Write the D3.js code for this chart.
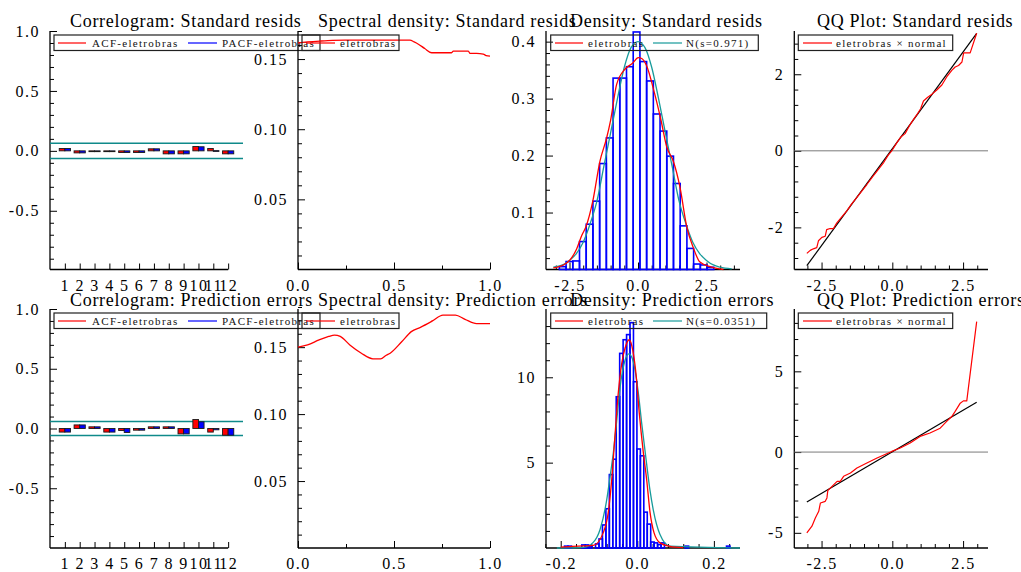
<!DOCTYPE html>
<html>
<head>
<meta charset="utf-8">
<script src="https://cdn.jsdelivr.net/npm/d3@7"></script>
<style>
  html, body { margin: 0; padding: 0; background: #fff; }
  svg { display: block; font-family: "Liberation Serif", "Times New Roman", serif; }
</style>
</head>
<body>
<svg id="chart" width="1021" height="572"></svg>
<script>
// ---------- Correlograms ----------
const lags = [1, 2, 3, 4, 5, 6, 7, 8, 9, 10, 11, 12];
const acfStd  = [0.020, -0.017, -0.003, -0.003, -0.014, -0.014, 0.017, -0.025, -0.025, 0.036, 0.020, -0.025];
const pacfStd = [0.020, -0.017, -0.003, -0.003, -0.014, -0.014, 0.017, -0.025, -0.025, 0.034, 0.002, -0.025];
const bandStd = 0.063;
const acfErr  = [-0.030, 0.030, 0.014, -0.030, -0.017, -0.014, 0.014, 0.014, -0.045, 0.075, -0.030, -0.056];
const pacfErr = [-0.030, 0.030, 0.014, -0.030, -0.033, -0.014, 0.014, 0.014, -0.045, 0.056, -0.011, -0.056];
const bandErr = 0.058;

// ---------- Spectral densities ----------
const specStdX = [0, 0.05, 0.114, 0.18, 0.245, 0.35, 0.45, 0.583, 0.605, 0.627, 0.66, 0.696, 0.75, 0.80, 0.809, 0.85, 0.887, 0.896, 0.93, 0.965, 0.98, 1.0];
const specStdY = [0.1616, 0.1622, 0.1628, 0.1633, 0.1635, 0.1635, 0.1635, 0.1635, 0.1622, 0.1606, 0.1575, 0.1545, 0.1545, 0.1545, 0.1557, 0.1557, 0.1557, 0.1540, 0.1540, 0.1535, 0.1525, 0.1521];
const specErrX = [0, 0.05, 0.11, 0.16, 0.19, 0.22, 0.27, 0.33, 0.39, 0.43, 0.46, 0.48, 0.54, 0.59, 0.64, 0.70, 0.755, 0.82, 0.87, 0.93, 1.0];
const specErrY = [0.1500, 0.1517, 0.1554, 0.1580, 0.1590, 0.1580, 0.1517, 0.1455, 0.1413, 0.1413, 0.1440, 0.1455, 0.1540, 0.1616, 0.1650, 0.1696, 0.1740, 0.1740, 0.1708, 0.1676, 0.1676];

// ---------- Densities: standard residuals ----------
const binWStd = 0.245;
const histStdX0 = [-2.87, -2.625, -2.38, -2.135, -1.89, -1.645, -1.40, -1.155, -0.91, -0.665, -0.42, -0.175, 0.07, 0.315, 0.56, 0.805, 1.05, 1.295, 1.54, 1.785, 2.03, 2.275, 2.52];
const histStdH  = [0.005, 0.014, 0.015, 0.049, 0.0795, 0.120, 0.186, 0.231, 0.336, 0.336, 0.356, 0.417, 0.365, 0.331, 0.273, 0.243, 0.199, 0.151, 0.0766, 0.037, 0.0096, 0.008, 0.004];
const kdeStdX = [-3.09, -2.72, -2.48, -2.24, -2.05, -1.90, -1.65, -1.39, -1.15, -1.0, -0.78, -0.47, -0.20, 0.01, 0.15, 0.31, 0.60, 0.84, 1.05, 1.29, 1.53, 1.78, 2.02, 2.26, 2.63, 3.12];
const kdeStdY = [0.003, 0.008, 0.017, 0.036, 0.060, 0.075, 0.120, 0.190, 0.230, 0.262, 0.325, 0.352, 0.362, 0.372, 0.370, 0.358, 0.310, 0.262, 0.215, 0.190, 0.145, 0.075, 0.038, 0.013, 0.005, 0.0];
const normStdX = [-3.09, -2.75, -2.5, -2.25, -2.0, -1.75, -1.5, -1.25, -1.0, -0.75, -0.5, -0.25, 0, 0.25, 0.5, 0.75, 1.0, 1.25, 1.5, 1.75, 2.0, 2.25, 2.5, 2.75, 3.0, 3.42];
const normStdY = [0.004, 0.008, 0.016, 0.028, 0.048, 0.080, 0.120, 0.180, 0.240, 0.300, 0.355, 0.390, 0.400, 0.390, 0.355, 0.300, 0.240, 0.180, 0.120, 0.080, 0.048, 0.028, 0.016, 0.008, 0.004, 0.001];

// ---------- Densities: prediction errors ----------
const binWErr = 0.009;
const histErrX0 = [-0.190, -0.181, -0.145, -0.136, -0.127, -0.109, -0.100, -0.091, -0.082, -0.073, -0.064, -0.055, -0.046, -0.037, -0.028, -0.019, -0.010, -0.001, 0.008, 0.017, 0.026, 0.035, 0.044, 0.053, 0.062, 0.125, 0.233];
const histErrH  = [0.11, 0.11, 0.18, 0.18, 0.11, 0.24, 0.53, 1.35, 2.3, 4.3, 5.2, 8.86, 11.4, 12.2, 12.5, 13.2, 9.74, 5.8, 5.4, 2.1, 1.4, 0.35, 0.3, 0.2, 0.3, 0.11, 0.11];
const kdeErrX = [-0.20, -0.17, -0.14, -0.115, -0.0888, -0.0757, -0.0668, -0.0582, -0.0496, -0.0407, -0.0321, -0.0209, -0.012, -0.0034, 0.0052, 0.0157, 0.0245, 0.0332, 0.0436, 0.0593, 0.085, 0.12];
const kdeErrY = [0.05, 0.10, 0.12, 0.15, 0.9, 2.1, 4.0, 6.6, 9.1, 10.8, 11.7, 12.2, 11.6, 10.2, 7.9, 5.6, 4.0, 2.1, 0.9, 0.3, 0.1, 0.02];
const normErrX = [-0.21, -0.14, -0.115, -0.097, -0.080, -0.071, -0.063, -0.054, -0.045, -0.032, -0.0217, -0.0104, 0.0026, 0.0115, 0.0245, 0.033, 0.042, 0.059, 0.085, 0.268];
const normErrY = [0, 0.04, 0.33, 1.1, 2.8, 4.2, 5.5, 7.4, 9.4, 11.0, 11.37, 10.9, 9.1, 7.3, 4.9, 3.4, 2.2, 0.8, 0.11, 0];

// ---------- QQ plots ----------
const qqStdX = [-3.02, -2.90, -2.79, -2.67, -2.61, -2.49, -2.37, -2.32, -2.20, -2.08, -1.96, -1.80, -1.60, -1.45, -1.30, -1.10, -0.90, -0.70, -0.50, -0.30, -0.15, 0, 0.15, 0.30, 0.45, 0.60, 0.75, 0.90, 1.00, 1.10, 1.25, 1.40, 1.57, 1.75, 1.92, 2.10, 2.22, 2.34, 2.46, 2.52, 2.75, 2.98];
const qqStdY = [-2.68, -2.60, -2.56, -2.53, -2.35, -2.26, -2.23, -2.06, -2.03, -2.03, -1.88, -1.74, -1.56, -1.40, -1.26, -1.07, -0.88, -0.68, -0.49, -0.30, -0.12, 0.02, 0.20, 0.36, 0.45, 0.65, 0.82, 0.98, 1.10, 1.30, 1.40, 1.48, 1.59, 1.72, 1.93, 2.10, 2.19, 2.23, 2.32, 2.56, 2.56, 3.07];
const refStdX = [-3.02, 2.98];
const refStdY = [-3.00, 3.07];
const qqErrX = [-3.02, -2.84, -2.72, -2.60, -2.54, -2.37, -2.31, -2.28, -2.13, -1.95, -1.84, -1.72, -1.48, -1.25, -0.90, -0.54, -0.02, 0.28, 0.63, 0.98, 1.33, 1.69, 1.92, 2.10, 2.22, 2.40, 2.51, 2.63, 2.98];
const qqErrY = [-5.00, -4.59, -4.08, -3.67, -3.15, -3.05, -2.84, -2.39, -2.12, -1.81, -1.81, -1.50, -1.30, -0.99, -0.68, -0.37, 0.04, 0.25, 0.56, 0.97, 1.18, 1.48, 1.90, 2.20, 2.52, 3.03, 3.17, 3.17, 8.08];
const refErrX = [-3.02, 2.98];
const refErrY = [-3.09, 3.09];

// ---------- Text ----------
const titlesTop = ["Correlogram: Standard resids", "Spectral density: Standard resids", "Density: Standard resids", "QQ Plot: Standard resids"];
const titlesBottom = ["Correlogram: Prediction errors", "Spectral density: Prediction errors", "Density: Prediction errors", "QQ Plot: Prediction errors"];
const seriesName = "eletrobras";

// ---------- Styling ----------
const RED = "#ff0000", BLUE = "#0000ff", TEAL = "#179b9b", INK = "#000";
const svg = d3.select("#chart");
const rowBox = [{ top: 31, bottom: 269.5 }, { top: 309, bottom: 548 }];
const titleX = [70, 318, 570, 817];
const titleY = [27, 305.5];
const f1 = d => d.toFixed(1), f2 = d => d.toFixed(2), f0 = d => String(d);

const zip = (xs, ys) => xs.map((x, i) => [x, ys[i]]);
// tick positions between major steps (5 subdivisions each)
const subTicks = (lo, hi, step, major) =>
  d3.range(Math.round(lo / step), Math.round(hi / step) + 1)
    .map(k => +(k * step).toFixed(6))
    .filter(v => Math.abs(v / major - Math.round(v / major)) > 1e-6);

function yAxis(y, x0, majors, minors, fmt) {
  const g = svg.append("g");
  g.append("g").attr("transform", `translate(${x0},0)`)
    .call(d3.axisLeft(y).tickValues(minors).tickSize(-4).tickFormat(""))
    .call(s => s.select(".domain").remove());
  g.append("g").attr("transform", `translate(${x0},0)`)
    .call(d3.axisLeft(y).tickValues(majors).tickSize(-7).tickPadding(10).tickFormat(fmt))
    .call(s => s.select(".domain").remove());
  styleAxis(g);
  g.append("line").attr("x1", x0).attr("x2", x0)
    .attr("y1", y.range()[0]).attr("y2", y.range()[1])
    .attr("stroke", INK).attr("stroke-width", 1.3);
}

function xAxis(x, y0, majors, minors, fmt, endX, majorLen) {
  const g = svg.append("g");
  if (minors.length) {
    g.append("g").attr("transform", `translate(0,${y0})`)
      .call(d3.axisBottom(x).tickValues(minors).tickSize(-4).tickFormat(""))
      .call(s => s.select(".domain").remove());
  }
  g.append("g").attr("transform", `translate(0,${y0})`)
    .call(d3.axisBottom(x).tickValues(majors).tickSize(-(majorLen || 7)).tickPadding(10).tickFormat(fmt))
    .call(s => s.select(".domain").remove());
  styleAxis(g);
  g.append("line").attr("x1", x.range()[0]).attr("x2", endX === undefined ? x.range()[1] : endX)
    .attr("y1", y0).attr("y2", y0)
    .attr("stroke", INK).attr("stroke-width", 1.3);
}

function styleAxis(g) {
  g.selectAll("g").attr("font-family", null).attr("font-size", null);
  g.selectAll(".tick line").attr("stroke", INK).attr("stroke-width", 1);
  g.selectAll(".tick text").attr("fill", INK)
    .style("font-size", "16px").style("letter-spacing", "1.5px");
}

function title(text, x, y) {
  svg.append("text").attr("x", x).attr("y", y).text(text)
    .style("font-size", "18px").style("letter-spacing", "0.7px").attr("fill", INK);
}

function legend(x0, x1, y0, items) {
  const g = svg.append("g");
  const y1 = y0 + 15.5, ym = y0 + 8;
  g.append("rect").attr("x", x0).attr("y", y0).attr("width", x1 - x0).attr("height", y1 - y0)
    .attr("fill", "none").attr("stroke", "#202020").attr("stroke-width", 1.2);
  items.forEach(it => {
    g.append("line").attr("x1", it.l0).attr("x2", it.l1).attr("y1", ym).attr("y2", ym)
      .attr("stroke", it.color).attr("stroke-width", 1.5).attr("opacity", 0.8);
    g.append("text").attr("x", it.t).attr("y", y1 - 3.7).text(it.text)
      .style("font-size", "11px").style("letter-spacing", "1.3px").attr("fill", "#111");
  });
}

function path(data, x, y, color, width, curve) {
  svg.append("path").datum(data)
    .attr("d", d3.line().x(d => x(d[0])).y(d => y(d[1])).curve(curve || d3.curveLinear))
    .attr("fill", "none").attr("stroke", color).attr("stroke-width", width)
    .attr("stroke-linejoin", "round");
}

// ---------- Panel builders ----------
function correlogram(row, acf, pacf, band) {
  const b = rowBox[row];
  const x = d3.scaleLinear([0, 13], [50, 243]);
  const y = d3.scaleLinear([row === 0 ? -0.99 : -1, 1], [b.bottom, b.top]);
  yAxis(y, 50, [-0.5, 0, 0.5, 1], subTicks(-0.9, 0.9, 0.1, 0.5), f1);
  xAxis(x, b.bottom, lags, [], f0, x(12), 6);
  [band, -band].forEach(v => {
    svg.append("line").attr("x1", 50).attr("x2", x.range()[1])
      .attr("y1", y(v)).attr("y2", y(v)).attr("stroke", "#0f8a8a").attr("stroke-width", 1.5);
  });
  const bw = 5.6;
  const bars = [{ vals: acf, color: RED, off: -bw }, { vals: pacf, color: BLUE, off: 0 }];
  bars.forEach(s => {
    svg.append("g").selectAll("rect").data(lags).join("rect")
      .attr("x", (k) => x(k) + s.off)
      .attr("width", bw)
      .attr("y", (k, i) => Math.min(y(0), y(s.vals[i])))
      .attr("height", (k, i) => Math.max(0.8, Math.abs(y(s.vals[i]) - y(0))))
      .attr("fill", s.color).attr("stroke", "#1a1a1a").attr("stroke-width", 0.9);
  });
  legend(54, 320, b.top + 4, [
    { color: RED, l0: 58, l1: 86, t: 92, text: "ACF-" + seriesName },
    { color: BLUE, l0: 188, l1: 217, t: 222, text: "PACF-" + seriesName }
  ]);
}

function spectral(row, xs, ys, ymax) {
  const b = rowBox[row];
  const x = d3.scaleLinear([0, 1], [298, 490]);
  const y = d3.scaleLinear([0, ymax], [b.bottom, b.top]);
  yAxis(y, 298, [0.05, 0.10, 0.15], subTicks(0.01, ymax, 0.01, 0.05), f2);
  xAxis(x, b.bottom, [0, 0.5, 1], [0.25, 0.75], f1);
  path(zip(xs, ys), x, y, RED, 1.3, d3.curveMonotoneX);
  legend(302, 399, b.top + 4, [{ color: RED, l0: 306, l1: 335, t: 340, text: seriesName }]);
}

function density(row, x, y, yMajors, yMinors, yFmt, xMajors, xMinors, xFmt, x0s, hs, bw, kde, norm, normLabel, boxEnd) {
  const b = rowBox[row];
  yAxis(y, x.range()[0], yMajors, yMinors, yFmt);
  xAxis(x, b.bottom, xMajors, xMinors, xFmt);
  svg.append("g").selectAll("rect").data(x0s).join("rect")
    .attr("x", d => x(d))
    .attr("width", d => x(d + bw) - x(d))
    .attr("y", (d, i) => y(hs[i]))
    .attr("height", (d, i) => y(0) - y(hs[i]))
    .attr("fill", "none").attr("stroke", BLUE).attr("stroke-width", 1.6);
  path(norm, x, y, TEAL, 1.3, d3.curveMonotoneX);
  path(kde, x, y, RED, 1.3, d3.curveMonotoneX);
  legend(550.7, boxEnd, b.top + 4, [
    { color: RED, l0: 555, l1: 583, t: 588, text: seriesName },
    { color: TEAL, l0: 653, l1: 682, t: 686, text: normLabel }
  ]);
}

function qq(row, y, yMajors, yMinors, pts, ref) {
  const b = rowBox[row];
  const x = d3.scaleLinear([-3.463, 3.38], [794.3, 988]);
  yAxis(y, 794.3, yMajors, yMinors, f0);
  xAxis(x, b.bottom, [-2.5, 0, 2.5], subTicks(-3, 3, 0.5, 2.5), f1);
  svg.append("line").attr("x1", x.range()[0]).attr("x2", x.range()[1])
    .attr("y1", y(0)).attr("y2", y(0)).attr("stroke", "#7a7a7a").attr("stroke-width", 1);
  path(ref, x, y, INK, 1.2);
  path(pts, x, y, RED, 1.2);
  legend(798.3, 952.7, b.top + 4, [{ color: RED, l0: 803, l1: 832, t: 836, text: seriesName + " \u00d7 normal" }]);
}

// ---------- Top row: standard residuals ----------
correlogram(0, acfStd, pacfStd, bandStd);
spectral(0, specStdX, specStdY, 0.17);
density(0,
  d3.scaleLinear([-3.358, 3.723], [546, 740]),
  d3.scaleLinear([0, 0.4187], [rowBox[0].bottom, rowBox[0].top]),
  [0.1, 0.2, 0.3, 0.4], subTicks(0.02, 0.4, 0.02, 0.1), f1,
  [-2.5, 0, 2.5], subTicks(-3, 3.5, 0.5, 2.5), f1,
  histStdX0, histStdH, binWStd, zip(kdeStdX, kdeStdY), zip(normStdX, normStdY), "N(s=0.971)", 758.3);
qq(0, d3.scaleLinear([-3.1, 3.13], [rowBox[0].bottom, rowBox[0].top]),
  [-2, 0, 2], subTicks(-2.8, 2.8, 0.4, 2),
  zip(qqStdX, qqStdY), zip(refStdX, refStdY));

// ---------- Bottom row: prediction errors ----------
correlogram(1, acfErr, pacfErr, bandErr);
spectral(1, specErrX, specErrY, 0.1785);
density(1,
  d3.scaleLinear([-0.2384, 0.2682], [546, 740]),
  d3.scaleLinear([0, 14.0], [rowBox[1].bottom, rowBox[1].top]),
  [5, 10], subTicks(1, 13, 1, 5), f0,
  [-0.2, 0, 0.2], subTicks(-0.24, 0.24, 0.04, 0.2), f1,
  histErrX0, histErrH, binWErr, zip(kdeErrX, kdeErrY), zip(normErrX, normErrY), "N(s=0.0351)", 766.7);
qq(1, d3.scaleLinear([-5.94, 8.86], [rowBox[1].bottom, rowBox[1].top]),
  [-5, 0, 5], subTicks(-5, 8, 1, 5),
  zip(qqErrX, qqErrY), zip(refErrX, refErrY));

// ---------- Titles ----------
titlesTop.forEach((t, i) => title(t, titleX[i], titleY[0]));
titlesBottom.forEach((t, i) => title(t, titleX[i], titleY[1]));
</script>
</body>
</html>
